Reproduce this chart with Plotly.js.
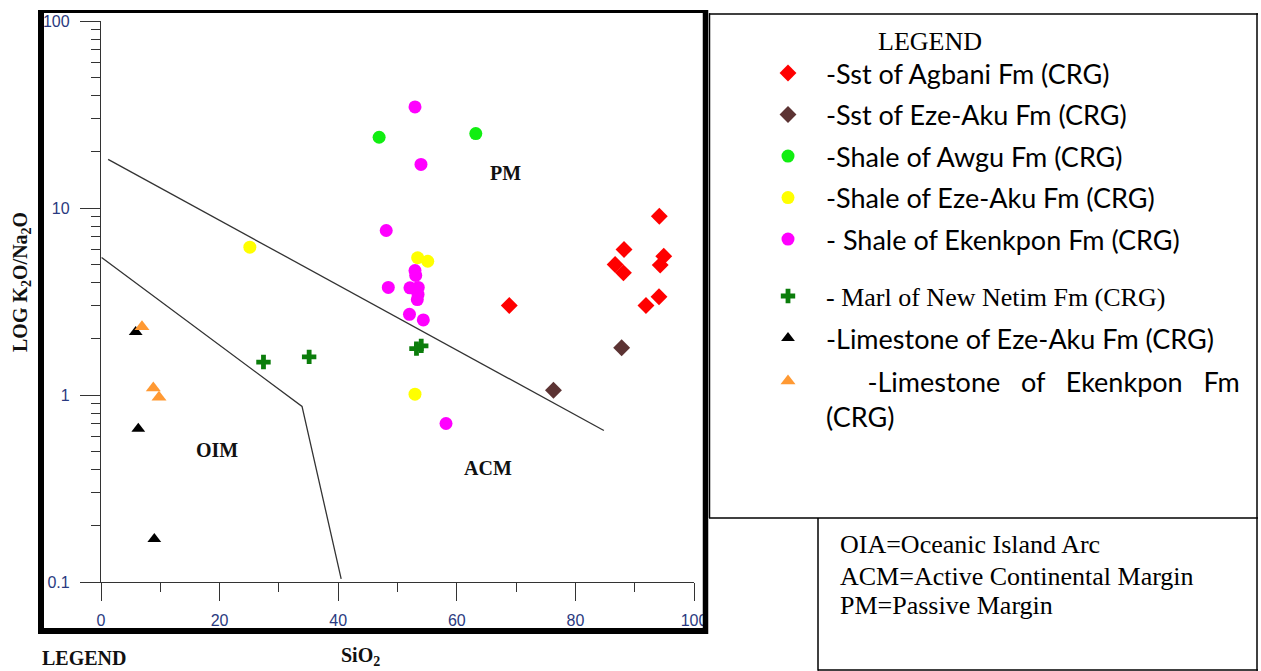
<!DOCTYPE html>
<html><head><meta charset="utf-8">
<script src="https://cdn.plot.ly/plotly-3.0.1.min.js"></script>
<style>html,body{margin:0;padding:0;background:#fff}#chart{width:1261px;height:671px}</style>
</head><body><div id="chart"></div>
<script>
// ---------- data (SiO2 vs K2O/Na2O) ----------
const agbaniSstX = [94.15, 88.2, 94.9, 86.7, 94.3, 88.1, 94.1, 91.9, 68.85];
const agbaniSstY = [9.04, 6.0, 5.52, 4.99, 4.95, 4.50, 3.35, 3.01, 3.01];
const ezeAkuSstX = [87.8, 76.3];
const ezeAkuSstY = [1.79, 1.06];
const awguShaleX = [46.9, 63.2];
const awguShaleY = [23.9, 25.0];
const ezeAkuShaleX = [25.1, 53.4, 55.1, 52.95];
const ezeAkuShaleY = [6.17, 5.42, 5.19, 1.01];
const ekenkponShaleX = [52.95, 53.96, 48.1, 52.95, 53.07, 48.45, 52.1, 53.5, 53.46, 53.34, 52.02, 54.35, 58.18];
const ekenkponShaleY = [34.7, 17.1, 7.58, 4.63, 4.36, 3.76, 3.74, 3.76, 3.45, 3.24, 2.70, 2.52, 0.704];
const netimMarlX = [27.4, 35.1, 53.2, 54.0];
const netimMarlY = [1.50, 1.60, 1.77, 1.83];
const ezeAkuLstX = [5.85, 6.29, 8.99];
const ezeAkuLstY = [2.17, 0.66, 0.170];
const ekenkponLstX = [6.91, 8.82, 9.78];
const ekenkponLstY = [2.32, 1.09, 0.973];

// discrimination boundaries
const pmBoundaryX = [1.2, 84.8];
const pmBoundaryY = [18.2, 0.646];
const oimBoundaryX = [0.1, 33.9, 40.5];
const oimBoundaryY = [5.43, 0.869, 0.104];

// field labels
const fieldLabels = ['PM', 'OIM', 'ACM'];
const fieldLabelX = [68.2, 19.6, 65.2];
const fieldLabelY = [15.3, 0.508, 0.406];

// ticks
const xTickVals = [0, 20, 40, 60, 80, 100];
const yTickVals = [0.1, 1, 10, 100];
const yTickText = ['0.1', '1', '10', '100'];
const yMinorVals = [0.2,0.3,0.4,0.5,0.6,0.7,0.8,0.9,2,3,4,5,6,7,8,9,20,30,40,50,60,70,80,90];

// legend names
const NB = '\u00A0';
const seriesNames = [
  '-Sst of Agbani Fm (CRG)',
  '-Sst of Eze-Aku Fm (CRG)',
  '-Shale of Awgu Fm (CRG)',
  '-Shale of Eze-Aku Fm (CRG)',
  '- Shale of Ekenkpon Fm (CRG)',
  '- Marl of New Netim Fm (CRG)',
  '-Limestone of Eze-Aku Fm (CRG)',
  NB.repeat(6) + '-Limestone' + NB.repeat(3) + 'of' + NB.repeat(3) + 'Ekenkpon' + NB.repeat(3) + 'Fm<br>(CRG)'
];
const boxNotes = ['OIA=Oceanic Island Arc', 'ACM=Active Continental Margin', 'PM=Passive Margin'];

// ---------- geometry helpers (pixel -> paper) ----------
const ML = 101, MR = 567, MT = 21, MB = 89, W = 1261, H = 671;
const PW = W - ML - MR, PH = H - MT - MB;
const px = v => (v - ML) / PW;
const py = v => (H - MB - v) / PH;

function pts(x, y, name, color, symbol, size, legend, group) {
  return {
    type: 'scatter', mode: 'markers', x: x, y: y, name: name,
    legend: legend, legendgroup: group,
    marker: {color: color, symbol: symbol, size: size, line: {width: 0}},
    hoverinfo: 'x+y+name'
  };
}

const traces = [
  {type:'scatter', mode:'lines', x: pmBoundaryX, y: pmBoundaryY, showlegend:false,
   line:{color:'#333', width:1.3}, hoverinfo:'skip'},
  {type:'scatter', mode:'lines', x: oimBoundaryX, y: oimBoundaryY, showlegend:false,
   line:{color:'#333', width:1.3}, hoverinfo:'skip'},
  pts(agbaniSstX, agbaniSstY, seriesNames[0], '#ff0000', 'diamond', 13, 'legend', 'g1'),
  pts(ezeAkuSstX, ezeAkuSstY, seriesNames[1], '#5c3333', 'diamond', 13, 'legend', 'g2'),
  pts(awguShaleX, awguShaleY, seriesNames[2], '#11ee11', 'circle', 13, 'legend', 'g3'),
  pts(ezeAkuShaleX, ezeAkuShaleY, seriesNames[3], '#ffff00', 'circle', 13, 'legend', 'g4'),
  pts(ekenkponShaleX, ekenkponShaleY, seriesNames[4], '#ff00ff', 'circle', 13, 'legend', 'g5'),
  pts(netimMarlX, netimMarlY, seriesNames[5], '#0b7d0b', 'cross', 12, 'legend2', 'g6'),
  pts(ezeAkuLstX, ezeAkuLstY, seriesNames[6], '#000000', 'triangle-up', 12, 'legend3', 'g7'),
  pts(ekenkponLstX, ekenkponLstY, seriesNames[7], '#ff9933', 'triangle-up', 13, 'legend3', 'g8')
];

const tickFont = {family:'Liberation Sans, Arial, sans-serif', size:16, color:'#2a3a80'};
const serif = 'Liberation Serif, Times New Roman, serif';

const annotations = [];
fieldLabels.forEach((t, i) => annotations.push({
  text: '<b>' + t + '</b>', x: fieldLabelX[i], y: Math.log10(fieldLabelY[i]), xref:'x', yref:'y',
  showarrow:false, font:{family:serif, size:20, color:'#111'}, xanchor:'center', yanchor:'middle'
}));
annotations.push({text:'<b>LOG K<sub>2</sub>O/Na<sub>2</sub>O</b>', textangle:-90,
  x: px(21), y: py(282), xref:'paper', yref:'paper', showarrow:false,
  font:{family:serif, size:20, color:'#111'}, xanchor:'center', yanchor:'middle'});
annotations.push({text:'<b>SiO<sub>2</sub></b>', x: px(360), y: py(656), xref:'paper', yref:'paper',
  showarrow:false, font:{family:serif, size:20, color:'#111'}, xanchor:'center', yanchor:'middle'});
annotations.push({text:'<b>LEGEND</b>', x: px(83.5), y: py(658), xref:'paper', yref:'paper',
  showarrow:false, font:{family:serif, size:20, color:'#111'}, xanchor:'center', yanchor:'middle'});
annotations.push({text:'LEGEND', x: px(929.5), y: py(41), xref:'paper', yref:'paper',
  showarrow:false, font:{family:serif, size:26, color:'#000'}, xanchor:'center', yanchor:'middle'});
const noteY = [544, 576, 605.5];
boxNotes.forEach((t, i) => annotations.push({text:t, x: px(838), y: py(noteY[i]), xref:'paper', yref:'paper',
  showarrow:false, font:{family:serif, size:26, color:'#000'}, xanchor:'left', yanchor:'middle'}));

function hline(y, x0, x1, w) { return {type:'line', xref:'paper', yref:'paper', x0:px(x0), x1:px(x1), y0:py(y), y1:py(y), line:{color:'#000', width:w}}; }
function vline(x, y0, y1, w) { return {type:'line', xref:'paper', yref:'paper', x0:px(x), x1:px(x), y0:py(y0), y1:py(y1), line:{color:'#000', width:w}}; }

const shapes = [
  // thick plot frame
  vline(41, 10, 634, 6), hline(631, 38, 708, 6), vline(705.5, 10, 634, 5.5), hline(11.5, 38, 708, 3),
  // legend boxes
  hline(14, 709, 1258, 1.5), vline(1257, 13.3, 670.7, 1.5), vline(709.5, 13.3, 518, 1.5),
  hline(518, 709, 1258, 1.5), vline(818, 518, 670.7, 1.5), hline(670, 818, 1258, 1.5)
];

const legendBase = {xref:'container', yref:'container', xanchor:'left', yanchor:'top',
  bgcolor:'rgba(0,0,0,0)', borderwidth:0, itemwidth:66, traceorder:'grouped', itemclick:false, itemdoubleclick:false};

const layout = {
  width: W, height: H, paper_bgcolor:'#fff', plot_bgcolor:'#fff',
  margin:{l:ML, r:MR, t:MT, b:MB, autoexpand:false},
  xaxis:{range:[0,100], showline:true, linecolor:'#333', linewidth:1.3, ticks:'outside', ticklen:18,
    tickwidth:1.3, tickcolor:'#333', tick0:0, dtick:20, showgrid:false, zeroline:false, tickfont:tickFont,
    ticklabelstandoff:6,
    minor:{ticks:'outside', ticklen:9, tick0:0, dtick:10, tickcolor:'#333', tickwidth:1.3, showgrid:false},
    fixedrange:true},
  yaxis:{type:'log', range:[-1,2], showline:true, linecolor:'#333', linewidth:1.3, ticks:'outside', ticklen:20,
    tickwidth:1.3, tickcolor:'#333', tickmode:'array', tickvals:yTickVals, ticktext:yTickText,
    showgrid:false, zeroline:false, tickfont:tickFont, ticklabelstandoff:7,
    minor:{tickmode:'array', tickvals:yMinorVals, ticks:'outside', ticklen:9, tickcolor:'#333', tickwidth:1.3, showgrid:false},
    fixedrange:true},
  legend: Object.assign({}, legendBase, {x: 750/W, y: 1 - 49/H, tracegroupgap:3.4,
    font:{family:'Lato, sans-serif', size:27, color:'#000'}}),
  legend2: Object.assign({}, legendBase, {x: 750/W, y: 1 - 272.6/H, tracegroupgap:0,
    font:{family:serif, size:26, color:'#000'}}),
  legend3: Object.assign({}, legendBase, {x: 750/W, y: 1 - 314/H, tracegroupgap:4.9, valign:'top',
    font:{family:'Lato, sans-serif', size:27, color:'#000'}}),
  annotations: annotations,
  shapes: shapes,
  showlegend: true
};

Plotly.newPlot('chart', traces, layout, {displayModeBar:false, responsive:false});
</script>
</body></html>
